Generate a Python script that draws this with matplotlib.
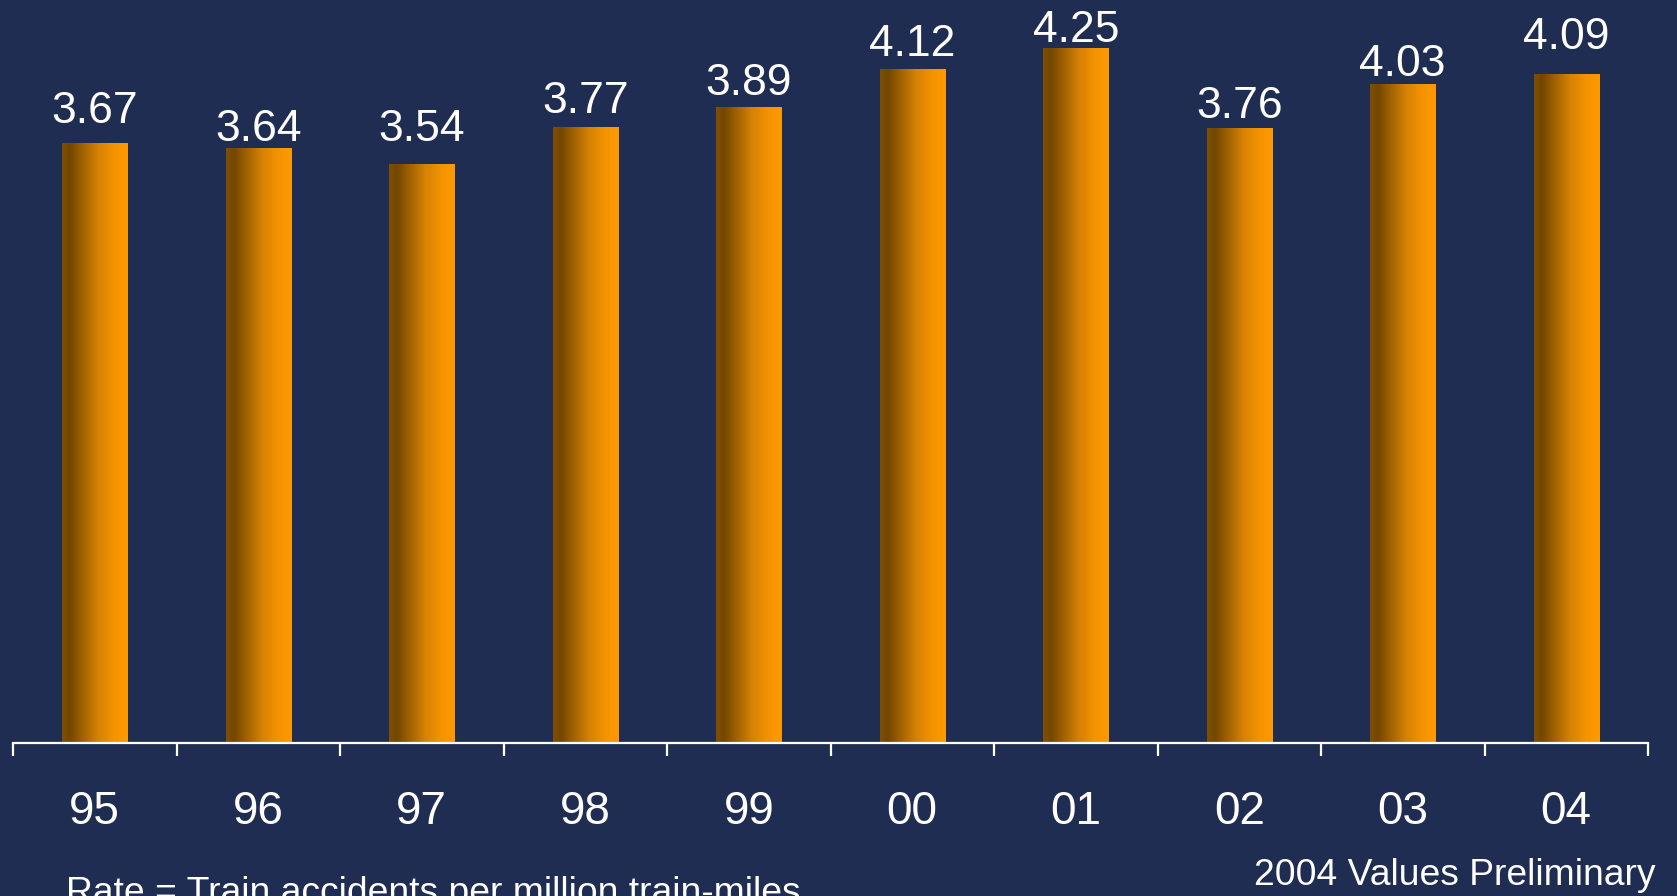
import numpy as np
import matplotlib
matplotlib.use("Agg")
import matplotlib.pyplot as plt
from matplotlib.colors import LinearSegmentedColormap

years = ["95", "96", "97", "98", "99", "00", "01", "02", "03", "04"]
rates = [3.67, 3.64, 3.54, 3.77, 3.89, 4.12, 4.25, 3.76, 4.03, 4.09]

# how far each value label sits above its bar (pixels)
label_lift = [22, 9, 25, 16, 14, 15, 8, 12, 10, 27]

bg = "#1f2d52"
plt.rcParams["font.family"] = ["Liberation Sans", "DejaVu Sans"]

fig = plt.figure(figsize=(16.77, 8.96), dpi=100, facecolor=bg)
ax = fig.add_axes([13 / 1677, 153 / 896, 1635 / 1677, 743 / 896])
ax.set_facecolor(bg)

x = np.arange(len(years))
bars = ax.bar(x, rates, width=0.4, color="none", edgecolor="none", zorder=2)

# brown -> orange horizontal shading inside each bar
shade = LinearSegmentedColormap.from_list("shade", [
    (0.0, (0.50, 0.31, 0.00)),
    (0.12, (0.45, 0.28, 0.00)),
    (0.55, (0.84, 0.51, 0.02)),
    (0.80, (0.96, 0.58, 0.00)),
    (1.0, (1.00, 0.60, 0.00)),
])
grad = np.linspace(0, 1, 256).reshape(1, -1)
for b in bars:
    x0, w, h = b.get_x(), b.get_width(), b.get_height()
    im = ax.imshow(grad, cmap=shade, aspect="auto", extent=(x0, x0 + w, 0, h),
                   zorder=2, interpolation="bilinear")
    im.set_clip_path(b)

for xi, r, lift in zip(x, rates, label_lift):
    ax.annotate(f"{r:.2f}", (xi, r), xytext=(0, lift - 2), textcoords="offset pixels",
                ha="center", va="baseline", color="white", fontsize=32)

ax.set_xlim(-0.5, len(years) - 0.5)
ax.set_ylim(0, 743 / 163.5)

for s in ["top", "right", "left"]:
    ax.spines[s].set_visible(False)
ax.spines["bottom"].set_color("white")
ax.spines["bottom"].set_linewidth(1.6)
ax.spines["bottom"].set_zorder(3)

ax.set_yticks([])
ax.set_xticks(x)
ax.set_xticklabels(years)
ax.set_xticks(np.arange(-0.5, len(years)), minor=True)
ax.tick_params(axis="x", which="major", length=0, pad=34, labelsize=33, labelcolor="white")
ax.tick_params(axis="x", which="minor", length=9.5, width=1.6, color="white", direction="out")

fig.text(66 / 1677, -7 / 896, "Rate = Train accidents per million train-miles",
         color="white", fontsize=26.8, ha="left", va="baseline")
fig.text(1655 / 1677, 11 / 896, "2004 Values Preliminary",
         color="white", fontsize=26.8, ha="right", va="baseline")

fig.savefig("out.png", dpi=100, facecolor=bg)
